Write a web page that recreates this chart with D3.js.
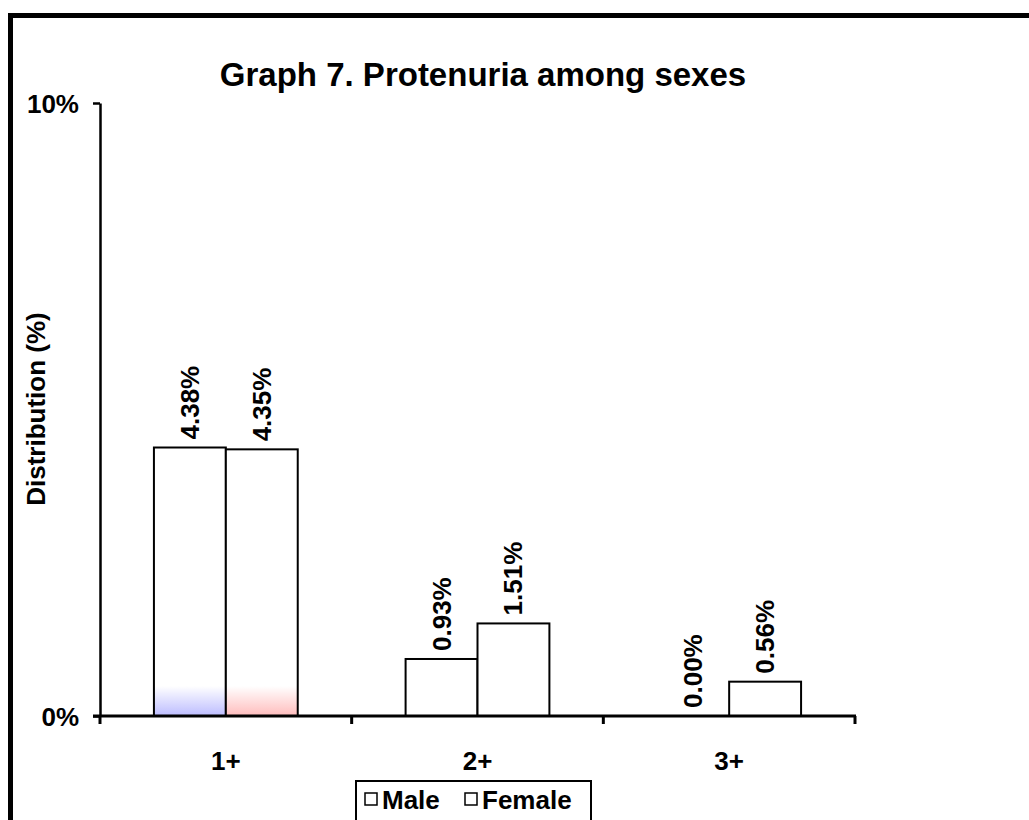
<!DOCTYPE html>
<html><head><meta charset="utf-8">
<script src="https://cdn.jsdelivr.net/npm/d3@7"></script>
<style>body{margin:0;background:#fff}svg{display:block}text{font-family:"Liberation Sans",Arial,sans-serif;font-weight:bold;fill:#000}</style>
</head><body>
<script>
const categories = ["1+", "2+", "3+"];
const seriesNames = ["Male", "Female"];
const maleValues = [4.38, 0.93, 0.00];
const femaleValues = [4.35, 1.51, 0.56];
const yTicks = [0, 10];
const yTickLabels = ["0%", "10%"];

(function() {
const W = 1029, H = 820;
const FONT = "'Liberation Sans', Arial, sans-serif";
const svg = d3.select("body").append("svg").attr("width", W).attr("height", H);

// outer frame (extends beyond right/bottom edges)
svg.append("rect").attr("x", 10.5).attr("y", 15.5).attr("width", 1100).attr("height", 900)
  .attr("fill", "none").attr("stroke", "#000").attr("stroke-width", 5);

const pLeft = 100, pRight = 855, pTop = 103, pBottom = 716;
const x0 = d3.scaleBand().domain(categories).range([pLeft, pRight]).paddingInner(0).paddingOuter(0);
const x1 = d3.scaleBand().domain(seriesNames).range([0, x0.bandwidth()]).paddingInner(0).paddingOuter(0.75);
const y = d3.scaleLinear().domain([0, 10]).range([pBottom, pTop]);

const defs = svg.append("defs");
const grads = {Male: "#bcbcff", Female: "#ffbcbc"};
Object.entries(grads).forEach(([k, c]) => {
  const g = defs.append("linearGradient").attr("id", "g" + k).attr("x1", 0).attr("y1", 1).attr("x2", 0).attr("y2", 0);
  g.append("stop").attr("offset", 0).attr("stop-color", c).attr("stop-opacity", 1);
  g.append("stop").attr("offset", 1).attr("stop-color", c).attr("stop-opacity", 0);
});

function txt(sel, size) {
  return sel.style("font-family", FONT).style("font-weight", "bold").style("font-size", size + "px").attr("fill", "#000");
}

// title
txt(svg.append("text").attr("x", 483).attr("y", 86).attr("text-anchor", "middle"), 33)
  .text("Graph 7. Protenuria among sexes");

// y label
txt(svg.append("text").attr("transform", `translate(45,409) rotate(-90)`).attr("text-anchor", "middle"), 26)
  .text("Distribution (%)");

const data = categories.map((c, i) => ({cat: c, vals: [
  {s: "Male", v: maleValues[i]}, {s: "Female", v: femaleValues[i]}]}));

const groups = svg.selectAll("g.cat").data(data).join("g").attr("class", "cat")
  .attr("transform", d => `translate(${x0(d.cat)},0)`);

groups.each(function(d, ci) {
  const g = d3.select(this);
  d.vals.forEach(e => {
    if (e.v > 0) {
      g.append("rect").attr("x", x1(e.s)).attr("y", y(e.v)).attr("width", x1.bandwidth())
        .attr("height", y(0) - y(e.v)).attr("fill", "#fff");
      if (ci === 0) {
        g.append("rect").attr("x", x1(e.s)).attr("y", y(0) - 30).attr("width", x1.bandwidth())
          .attr("height", 30).attr("fill", `url(#g${e.s})`);
      }
      g.append("rect").attr("x", x1(e.s)).attr("y", y(e.v)).attr("width", x1.bandwidth())
        .attr("height", y(0) - y(e.v)).attr("fill", "none").attr("stroke", "#000").attr("stroke-width", 2);
    }
    const cx = x1(e.s) + x1.bandwidth() / 2 + 9;
    txt(g.append("text").attr("transform", `translate(${cx},${y(e.v) - 8}) rotate(-90)`)
      .attr("text-anchor", "start"), 26).text(e.v.toFixed(2) + "%");
  });
});

// axes
const yAxis = svg.append("g").attr("transform", `translate(${pLeft},0)`)
  .call(d3.axisLeft(y).tickValues(yTicks).tickFormat((d, i) => yTickLabels[i]).tickSize(7).tickSizeOuter(0).tickPadding(14));
yAxis.select(".domain").attr("stroke-width", 2.5);
yAxis.selectAll(".tick line").attr("stroke-width", 2.5);
txt(yAxis.selectAll("text"), 26).attr("dy", "0.36em");

const xTickScale = d3.scaleLinear().domain([0, 3]).range([pLeft, pRight]);
const xAxis = svg.append("g").attr("transform", `translate(0,${pBottom})`);
xAxis.append("line").attr("x1", pLeft - 7).attr("x2", pRight + 1).attr("y1", 0).attr("y2", 0)
  .attr("stroke", "#000").attr("stroke-width", 3);
xAxis.selectAll("line.t").data([0, 1, 2, 3]).join("line").attr("class", "t")
  .attr("x1", d => xTickScale(d)).attr("x2", d => xTickScale(d)).attr("y1", 0).attr("y2", 8)
  .attr("stroke", "#000").attr("stroke-width", 3);
txt(xAxis.selectAll("text").data(categories).join("text")
  .attr("x", d => x0(d) + x0.bandwidth() / 2).attr("y", 54).attr("text-anchor", "middle"), 26)
  .text(d => d);

// legend
const lg = svg.append("g");
lg.append("rect").attr("x", 356).attr("y", 781).attr("width", 235).attr("height", 50)
  .attr("fill", "#fff").attr("stroke", "#000").attr("stroke-width", 2);
const legendX = [365, 465];
seriesNames.forEach((s, i) => {
  lg.append("rect").attr("x", legendX[i]).attr("y", 793).attr("width", 12).attr("height", 12)
    .attr("fill", "#fff").attr("stroke", "#000").attr("stroke-width", 1.5);
  txt(lg.append("text").attr("x", legendX[i] + 17).attr("y", 809), 26).text(s);
});
})();
</script>
</body></html>
